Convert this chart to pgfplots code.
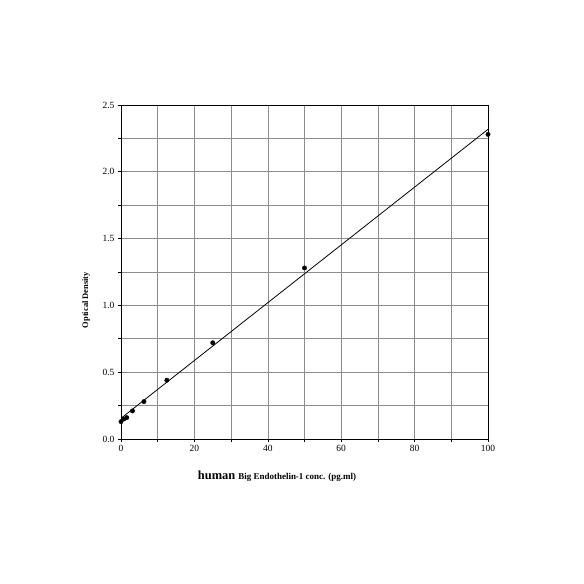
\documentclass[border=0pt]{standalone}
\usepackage{pgfplots}
\pgfplotsset{compat=1.18}
\usepackage{fontspec}
\setmainfont{Liberation Serif}
\begin{document}
\begin{tikzpicture}
\useasboundingbox (0,0) rectangle (584bp,584bp);
\begin{axis}[
  at={(121bp,145bp)}, anchor=south west,
  scale only axis, width=367bp, height=334bp,
  xmin=0, xmax=100, ymin=0, ymax=2.5,
  xtick={0,20,...,100}, minor xtick={10,30,50,70,90},
  ytick={0,0.5,...,2.5}, minor ytick={0.25,0.75,1.25,1.75,2.25},
  grid=both,
  major grid style={draw=black!45, line width=0.6pt},
  minor grid style={draw=black!45, line width=0.6pt},
  axis line style={black, line width=0.8pt},
  tick align=outside, xtick pos=left, ytick pos=left,
  major tick length=3bp, minor tick length=3bp,
  tick style={black, line width=0.6pt},
  /pgf/number format/assume math mode=true,
  yticklabel style={/pgf/number format/.cd, fixed, fixed zerofill, precision=1},
  xticklabel style={/pgf/number format/.cd, fixed},
  ticklabel style={font=\fontsize{9.5}{10}\selectfont},
  xlabel={\fontsize{12.5}{13}\selectfont\bfseries human\ \fontsize{9}{10}\selectfont Big Endothelin-1 conc. (pg.ml)},
  xlabel style={at={(axis description cs:0.425,-0.111)}, anchor=center},
  ylabel={\fontsize{8.5}{9}\selectfont\bfseries Optical Density},
  ylabel style={at={(axis description cs:-0.095,0.416)}, anchor=center, rotate=0},
]
\addplot[black, line width=0.8pt] coordinates {(0,0.155) (100,2.318)};
\addplot[only marks, mark=*, mark size=2.2bp, black] coordinates {
(0,0.13) (0.78,0.15) (1.56,0.16) (3.125,0.21) (6.25,0.28) (12.5,0.44) (25,0.72) (50,1.28) (100,2.28)};
\end{axis}
\end{tikzpicture}
\end{document}
